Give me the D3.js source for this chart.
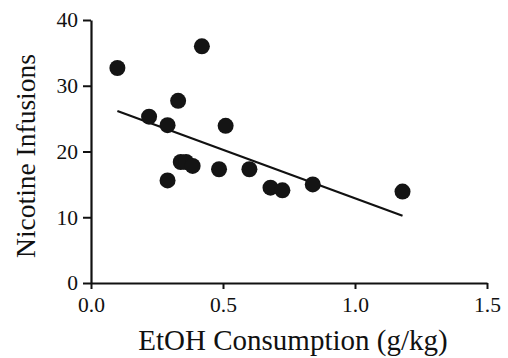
<!DOCTYPE html>
<html>
<head>
<meta charset="utf-8">
<script src="https://cdn.jsdelivr.net/npm/d3@7"></script>
<style>
  body { margin: 0; background: #fff; }
  text { font-family: "Liberation Serif", "Times New Roman", serif; fill: #111; }
</style>
</head>
<body>
<div id="chart"></div>
<script>
// EtOH consumption (g/kg) vs nicotine infusions, one entry per animal
const etoh = [0.10, 0.42, 0.22, 0.29, 0.33, 0.51, 0.29, 0.34, 0.36, 0.385, 0.485, 0.60, 0.68, 0.725, 0.84, 1.18];
const infusions = [32.7, 36.0, 25.3, 24.0, 27.7, 23.9, 15.6, 18.4, 18.4, 17.8, 17.3, 17.3, 14.5, 14.1, 15.0, 13.9];

// fitted regression line
const fitIntercept = 27.65;
const fitSlope = -14.77;

const xTicks = [0, 0.5, 1.0, 1.5];
const yTicks = [0, 10, 20, 30, 40];

const width = 508;
const height = 358;
const margin = { top: 20, right: 21, bottom: 75, left: 91 };

const svg = d3
  .select('#chart')
  .append('svg')
  .attr('width', width)
  .attr('height', height);

const x = d3.scaleLinear().domain([0, 1.5]).range([margin.left, width - margin.right]);
const y = d3.scaleLinear().domain([0, 40]).range([height - margin.bottom, margin.top]);

const xAxis = svg
  .append('g')
  .attr('transform', `translate(0, ${y(0)})`)
  .call(d3.axisBottom(x).tickValues(xTicks).tickFormat(d3.format('.1f')).tickSize(6).tickSizeOuter(0));

const yAxis = svg
  .append('g')
  .attr('transform', `translate(${x(0)}, 0)`)
  .call(d3.axisLeft(y).tickValues(yTicks).tickSize(8).tickSizeOuter(0));

[xAxis, yAxis].forEach((g) => {
  g.select('.domain').attr('stroke', '#111').attr('stroke-width', 2.2);
  g.selectAll('.tick line').attr('stroke', '#111').attr('stroke-width', 2);
  g.selectAll('.tick text')
    .attr('font-family', '"Liberation Serif", serif')
    .attr('font-size', 21.5)
    .attr('fill', '#111');
});
xAxis.selectAll('.tick text').attr('dy', null).attr('y', 29);
yAxis.selectAll('.tick text').attr('x', -13);

// axis titles
svg
  .append('text')
  .attr('x', 293)
  .attr('y', 350)
  .attr('text-anchor', 'middle')
  .attr('font-size', 29)
  .text('EtOH Consumption (g/kg)');

svg
  .append('text')
  .attr('transform', `translate(35, 156) rotate(-90)`)
  .attr('text-anchor', 'middle')
  .attr('font-size', 27.5)
  .text('Nicotine Infusions');

// regression line over the range of the data
const xMin = d3.min(etoh);
const xMax = d3.max(etoh);
svg
  .append('line')
  .attr('x1', x(xMin))
  .attr('y1', y(fitIntercept + fitSlope * xMin))
  .attr('x2', x(xMax))
  .attr('y2', y(fitIntercept + fitSlope * xMax))
  .attr('stroke', '#111')
  .attr('stroke-width', 2.2);

svg
  .append('g')
  .selectAll('circle')
  .data(etoh)
  .enter()
  .append('circle')
  .attr('cx', (d) => x(d))
  .attr('cy', (d, i) => y(infusions[i]))
  .attr('r', 8)
  .attr('fill', '#141414');
</script>
</body>
</html>
